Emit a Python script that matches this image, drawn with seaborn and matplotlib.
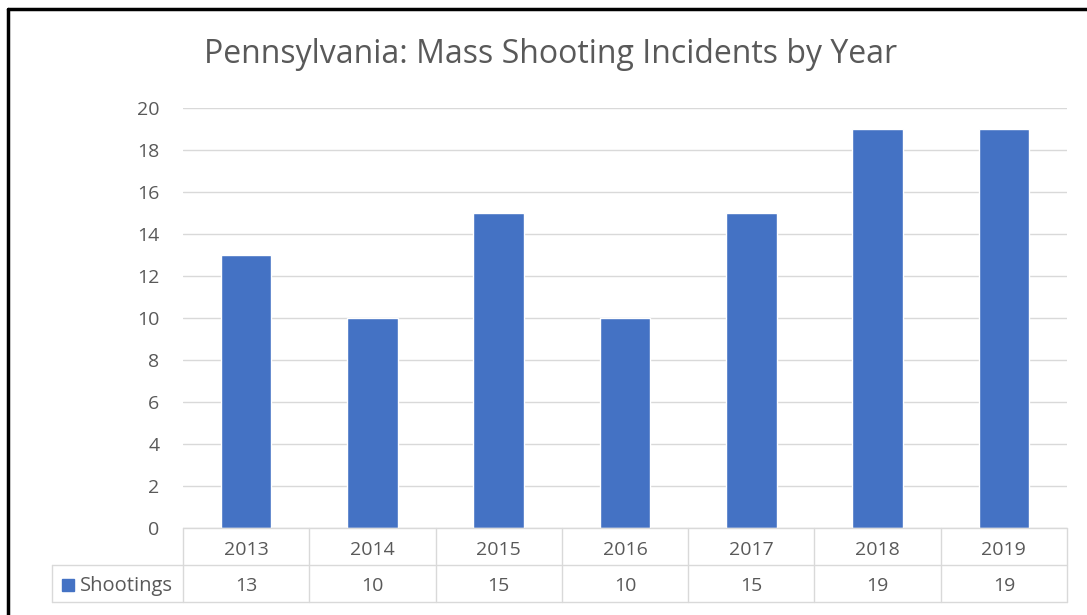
import matplotlib
matplotlib.use("Agg")
from matplotlib import pyplot as plt
from matplotlib.patches import Rectangle
import pandas as pd
import seaborn as sns

years = ['2013', '2014', '2015', '2016', '2017', '2018', '2019']
shootings = [13, 10, 15, 10, 15, 19, 19]
series_name = 'Shootings'
title = 'Pennsylvania: Mass Shooting Incidents by Year'
yticks = [0, 2, 4, 6, 8, 10, 12, 14, 16, 18, 20]

df = pd.DataFrame({'Year': years, series_name: shootings})

bar_color = '#4472C4'
grid_color = '#D9D9D9'
text_color = '#595959'

sns.set_style('white')
plt.rcParams['font.family'] = ['Open Sans', 'DejaVu Sans']

W, H = 1087, 615
fig = plt.figure(figsize=(W / 100, H / 100), dpi=100)

# plot area in pixels
x0, x1, ytop, ybot = 183, 1067, 108, 528
ax = fig.add_axes([x0 / W, 1 - ybot / H, (x1 - x0) / W, (ybot - ytop) / H])

sns.barplot(data=df, x='Year', y=series_name, color=bar_color, width=0.4,
            saturation=1, ax=ax, zorder=3)
ax.set_ylim(0, 20)
ax.set_xlim(-0.5, len(years) - 0.5)
ax.set_yticks(yticks)
ax.set_yticklabels([str(t) for t in yticks], color=text_color, fontsize=14)
ax.tick_params(axis='y', length=0, pad=17)
ax.set_xticks([])
ax.set_xlabel('')
ax.set_ylabel('')
for t in yticks:
    ax.axhline(t, color=grid_color, lw=1, zorder=1)
for s in ax.spines.values():
    s.set_visible(False)

# data table below the plot area
row1, row2, row3 = 528, 565, 602
left_cell = 52
col_w = (x1 - x0) / len(years)
tf = fig.transFigure


def px(x, y):
    return x / W, 1 - y / H


def line(xa, ya, xb, yb):
    fig.add_artist(plt.Line2D([xa / W, xb / W], [1 - ya / H, 1 - yb / H],
                              color=grid_color, lw=1, transform=tf))


line(x0, row1, x1, row1)
line(left_cell, row2, x1, row2)
line(left_cell, row3, x1, row3)
line(left_cell, row2, left_cell, row3)
for i in range(len(years) + 1):
    xx = x0 + i * col_w
    line(xx, row1, xx, row3)

for i, (yr, v) in enumerate(zip(years, shootings)):
    cx = x0 + (i + 0.5) * col_w
    fig.text(*px(cx, 555), yr, ha='center', va='baseline',
             color=text_color, fontsize=14)
    fig.text(*px(cx, 591), str(v), ha='center', va='baseline',
             color=text_color, fontsize=14)

fig.add_artist(Rectangle(px(62, 591), 12 / W, 12 / H, color=bar_color, transform=tf))
fig.text(*px(80, 591), series_name, ha='left', va='baseline',
         color=text_color, fontsize=14.5)

fig.text(*px(551, 63), title, ha='center', va='baseline', color=text_color, fontsize=23)

# screenshot border (top and left)
fig.add_artist(plt.Line2D([8 / W, 8 / W], [0, 1 - 9 / H], color='black', lw=2.5, transform=tf))
fig.add_artist(plt.Line2D([8 / W, 1], [1 - 9 / H, 1 - 9 / H], color='black', lw=2.5, transform=tf))

fig.savefig('out.png', dpi=100)
